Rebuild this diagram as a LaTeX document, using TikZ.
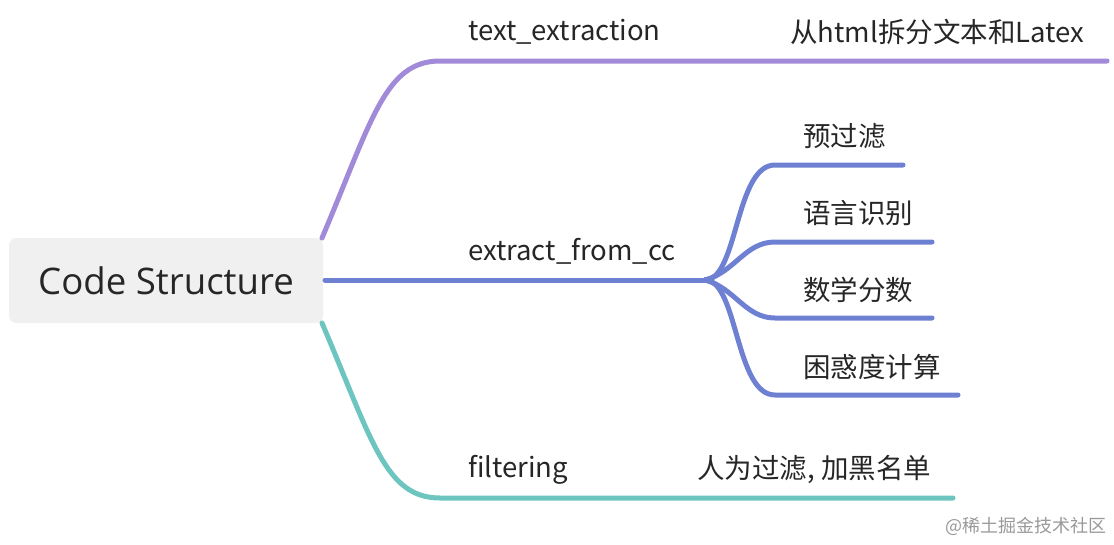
\documentclass[tikz,border=0pt]{standalone}
\usepackage{fontspec}
\setmainfont{Open Sans}
\newfontfamily\cjk{Noto Sans CJK SC}
\begin{document}
\begin{tikzpicture}[x=1pt,y=-1pt,
  lbl/.style={anchor=west,inner sep=0pt,font=\fontsize{27.5}{30}\selectfont\cjk,text=black!85},
  br/.style={line width=5pt,line cap=round},
  purp/.style={br,draw=purpleline},
  blu/.style={br,draw=blueline},
  teal/.style={br,draw=tealline}]
\definecolor{purpleline}{HTML}{A18BD9}
\definecolor{blueline}{HTML}{6E80D2}
\definecolor{tealline}{HTML}{6CC5BF}
\definecolor{rootfill}{HTML}{EFF0EF}
\useasboundingbox (0,0) rectangle (1114,544);
\node[fill=rootfill,rounded corners=7pt,minimum width=314pt,minimum height=85pt,inner sep=0pt,
      font=\fontsize{36.6}{40}\selectfont,text=black!85] (root) at (166,280.5) {Code Structure};
% purple branch
\coordinate (p0) at (322,238);
\coordinate (p1) at (440,61);
\coordinate (p2) at (1107,61);
\draw[purp] (p0) .. controls (372,120) and (385,61) .. (p1) -- (p2);
\node[lbl] (te) at (468,32) {text\_extraction};
\node[lbl] (ted) at (790,32) {从html拆分文本和Latex};
% blue branch
\coordinate (b0) at (325,280);
\coordinate (bj) at (705,280);
\draw[blu] (b0) -- (bj);
\node[lbl] (ec) at (468,251) {extract\_from\_cc};
\coordinate (c1) at (903,165);
\coordinate (c2) at (932,242);
\coordinate (c3) at (932,318);
\coordinate (c4) at (958,395);
\draw[blu] (bj) .. controls (738,280) and (735,165) .. (775,165) -- (c1);
\draw[blu] (bj) .. controls (735,272) and (745,242) .. (775,242) -- (c2);
\draw[blu] (bj) .. controls (735,288) and (745,318) .. (775,318) -- (c3);
\draw[blu] (bj) .. controls (738,280) and (735,395) .. (775,395) -- (c4);
\node[lbl] (n1) at (803,136) {预过滤};
\node[lbl] (n2) at (803,213) {语言识别};
\node[lbl] (n3) at (803,290) {数学分数};
\node[lbl] (n4) at (803,367) {困惑度计算};
% teal branch
\coordinate (t0) at (322,323);
\coordinate (t1) at (440,498);
\coordinate (t2) at (953,498);
\draw[teal] (t0) .. controls (372,440) and (385,498) .. (t1) -- (t2);
\node[lbl] (fi) at (468,470) {filtering};
\node[lbl] (fid) at (697,470) {人为过滤, 加黑名单};
\node[anchor=east,inner sep=0pt,font=\fontsize{18}{20}\selectfont\cjk,text=black!40] (wm) at (1107,526) {@稀土掘金技术社区};
\end{tikzpicture}
\end{document}
